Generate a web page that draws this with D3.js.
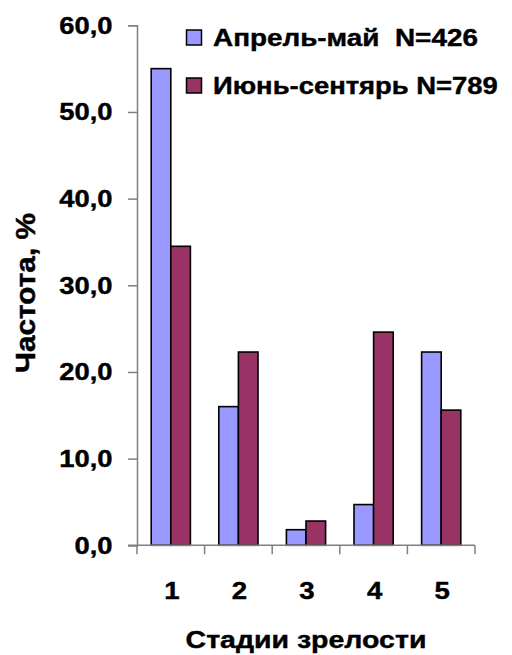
<!DOCTYPE html>
<html><head><meta charset="utf-8">
<script src="https://cdn.jsdelivr.net/npm/d3@7"></script>
<style>body{margin:0;background:#fff}svg{display:block}text{font-family:"Liberation Sans",Arial,sans-serif;font-weight:bold;fill:#000;stroke:#000;stroke-width:0.4;white-space:pre}</style>
</head><body><svg id="c" width="512" height="655"></svg>
<script>
const categories = ["1","2","3","4","5"];
const seriesNames = ["Апрель-май  N=426","Июнь-сентярь N=789"];
const aprMay = [55.0,16.0,1.8,4.7,22.3];
const junSep = [34.5,22.3,2.8,24.6,15.6];
const yTicks = [0,10,20,30,40,50,60];
const colors = ["#9999FF","#993366"];
const yTitle = "Частота, %";
const xTitle = "Стадии зрелости";

const svg = d3.select("#c");
function label(parent, str, x, y, opts){
  const o = Object.assign({fs:23, anchor:"start", sx:1, sy:1, rot:0, width:null, dy:"0"}, opts||{});
  const gg = parent.append("g");
  const t = gg.append("text").attr("font-size",o.fs).attr("text-anchor",o.anchor).attr("dy",o.dy).text(str);
  let sx = o.sx;
  if (o.width){ sx = o.width / t.node().getComputedTextLength(); }
  gg.attr("transform",`translate(${x},${y}) rotate(${o.rot}) scale(${sx},${o.sy})`);
  return gg;
}

const x = d3.scaleBand().domain(categories).range([137,475]).padding(0);
const xs = d3.scaleBand().domain([0,1]).range([0,x.bandwidth()]).paddingInner(0).paddingOuter(0.725);
const y = d3.scaleLinear().domain([0,60]).range([545.3,25.3]);

const data = categories.map((c,i)=>({c, v:[aprMay[i],junSep[i]]}));

// bars
const g = svg.append("g");
g.selectAll("g.cat").data(data).join("g").attr("transform",d=>`translate(${x(d.c)},0)`)
 .selectAll("rect").data(d=>d.v.map((v,k)=>({v,k}))).join("rect")
 .attr("x",d=>xs(d.k)).attr("width",xs.bandwidth())
 .attr("y",d=>y(d.v)).attr("height",d=>y(0)-y(d.v))
 .attr("fill",d=>colors[d.k]).attr("stroke","#000").attr("stroke-width",1.6);

// y axis
const fmt = d=>d3.format(".1f")(d).replace(".",",");
const ya = svg.append("g").attr("transform","translate(137,0)")
 .call(d3.axisLeft(y).tickValues(yTicks).tickSize(9).tickFormat(""));
ya.select(".domain").attr("stroke","#808080").attr("stroke-width",1.5);
ya.selectAll(".tick line").attr("stroke","#808080").attr("stroke-width",1.5);
const ylab = svg.append("g");
yTicks.forEach(v=>label(ylab, fmt(v), 112.5, y(v), {anchor:"end", sx:1.19, dy:"0.36em"}));

// x axis
const xa = svg.append("g").attr("transform","translate(0,545.3)");
xa.append("line").attr("x1",128).attr("x2",475).attr("y1",0).attr("y2",0).attr("stroke","#808080").attr("stroke-width",1.5);
const bounds = categories.map(c=>x(c)).concat([x(categories[categories.length-1])+x.bandwidth()]);
xa.selectAll("line.t").data(bounds).join("line").attr("class","t")
 .attr("x1",d=>d).attr("x2",d=>d).attr("y1",0).attr("y2",9).attr("stroke","#808080").attr("stroke-width",1.5);
const xlab = svg.append("g");
categories.forEach(c=>label(xlab, c, x(c)+x.bandwidth()/2+1, 598.5, {anchor:"middle", sx:1.2}));

// titles
label(svg, yTitle, 35, 293, {anchor:"middle", rot:-90, width:160, sy:1.2});
label(svg, xTitle, 306, 648, {fs:24, anchor:"middle", width:241});

// legend
const legendLen = [265, 285];
const lg = svg.append("g");
seriesNames.forEach((n,i)=>{
  const base = 45.5 + i*48;
  lg.append("rect").attr("x",186.5).attr("y",base-15.5).attr("width",15).attr("height",15).attr("fill",colors[i]).attr("stroke","#000").attr("stroke-width",1.5);
  label(lg, n, 213, base, {width:legendLen[i]});
});
</script></body></html>
